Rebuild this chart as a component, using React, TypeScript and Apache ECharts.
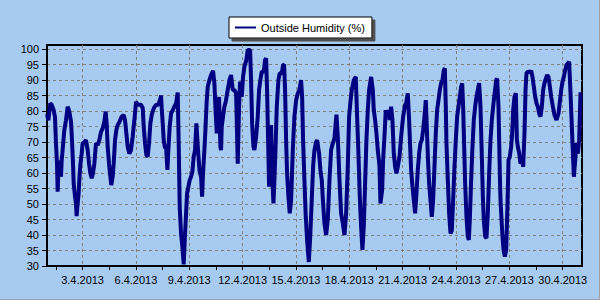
import React, { useEffect, useRef } from 'react';
import * as echarts from 'echarts';

// hours since 1.4.2013 00:00
const hours = [
  0, 1.8, 4.5, 6.3, 9, 10.8, 12.1, 13.5, 14.4, 15.7, 17.5, 18.9, 19.8, 21.1, 23.4, 25.6, 27.9, 30.1, 32.4, 33.7,
  35.1, 36, 37.8, 39.1, 40, 41.4, 42.7, 43.6, 45, 46.8, 48.1, 50.4, 52.6, 54.9, 56.7, 58.5, 60.3, 62.1, 63.9, 66.1,
  68.4, 70.6, 72.9, 75.1, 77.4, 79.2, 80.5, 81.9, 83.7, 85.5, 86.8, 88.6, 90, 91.8, 93.6, 95.4, 98.1, 100.8, 103.5, 105.3,
  107.1, 108.9, 111.1, 113.4, 115.6, 117.9, 120.2, 122.4, 126.9, 129.2, 130.5, 132.3, 134.1, 135.9, 137.7, 139.5, 141.3, 144, 147.2, 150.3,
  153, 153.9, 154.8, 156.2, 157.5, 159.3, 160.7, 162.5, 163.8, 165.6, 167.4, 169.7, 171.9, 174.2, 176.4, 177.8, 179.1, 180.9, 182.7, 184.5,
  185.9, 187.7, 189, 190.8, 192.6, 194.4, 196.2, 198, 199.8, 201.6, 203.4, 205.7, 207.9, 209.3, 210.6, 212.4, 213.8, 215.6, 216.9, 219.2,
  221.4, 224.1, 225.9, 227.7, 229.1, 230.4, 232.2, 234, 234.9, 235.8, 237.6, 239.4, 241.2, 243.9, 246.2, 248.4, 250.7, 252.9, 255.2, 256.5,
  257.4, 259.2, 260.6, 262.8, 264.6, 266.4, 269.1, 270.9, 274.1, 275.4, 276.8, 278.6, 279.9, 282.2, 284.4, 286.2, 288, 289.8, 292.5, 294.3,
  295.7, 297, 298.4, 299.7, 301.1, 302.4, 303.8, 305.6, 306.9, 308.3, 310.1, 312.3, 314.1, 316.8, 318.6, 320, 321.3, 322.7, 324, 325.8,
  327.6, 329.4, 331.7, 333.9, 336.2, 338.4, 340.7, 342.9, 344.3, 345.6, 347.4, 349.2, 351, 353.3, 355, 357.3, 359.1, 360.9, 363.2, 364.5,
  367.2, 369, 370.8, 372.6, 374.4, 376.7, 378.9, 381.2, 383.4, 385.7, 387.9, 390.6, 392.4, 394.7, 396.9, 399.2, 401.4, 403.7, 405.9, 407.7,
  409.5, 411.3, 414, 416.7, 418.5, 420.3, 422.1, 423.9, 425.7, 427.5, 429.3, 431.1, 432.9, 434.7, 437.4, 439.7, 441, 442.8, 444.6, 446.4,
  448.7, 450, 452.3, 453.6, 455.4, 457.2, 459, 460.8, 462.6, 464.4, 466.2, 468, 469.8, 471.6, 473.4, 475.7, 477.9, 480.6, 483.3, 484.7,
  486.9, 488.7, 490.1, 491.4, 493.2, 495, 496.8, 498.6, 500.4, 502.2, 504, 505.8, 507.6, 509.4, 511.2, 513, 514.4, 515.7, 517.5, 519.3,
  521.1, 522.9, 524.7, 526.5, 528.3, 530.1, 531.9, 533.7, 535.5, 536.9, 538.2, 539.1, 540.9, 542.7, 544.5, 546.3, 548.1, 549.9, 551.7, 553.5,
  555.3, 557.1, 558.9, 560.3, 561.6, 563, 564.3, 566.1, 567.9, 569.3, 570.6, 572.4, 574.2, 576, 577.8, 579.6, 581.4, 583.2, 585, 586.8,
  588.2, 589.5, 591.3, 593.1, 594.9, 596.7, 598.5, 600.3, 603, 606.2, 607.5, 609.3, 610.2, 611.1, 612, 613.4, 614.7, 616.1, 617.9, 619.7,
  621, 621.9, 622.8, 624.6, 626.4, 627.8, 629.1, 630.9, 632.7, 634.1, 635.4, 637.2, 639, 640.8, 642.6, 644.4, 645.8, 647.1, 648.9, 651.6,
  653.4, 655.2, 657, 658.8, 660.6, 662.4, 664.2, 666, 667.8, 669.6, 671.4, 673.2, 675, 676.8, 678.6, 680.4, 682.7, 684.9, 687.6, 690.3,
  692.1, 693.9, 695.7, 697.5, 699.3, 701.1, 702.9, 704.7, 706.5, 708.3, 709.7, 711, 712.8, 714.6, 716.4, 718.2, 720
];

const humidity = [
  79, 77, 82.5, 82, 80.3, 78, 69.6, 63, 54, 64, 62, 58.8, 64, 67.4, 73.9, 77, 81.4, 79.8, 76.6, 70.7,
  63, 56.7, 52.4, 50.2, 46.1, 50.2, 53.4, 57.7, 62.6, 66.3, 69.6, 70, 70.6, 67.4, 63.1, 59.9, 58.3, 59.9, 63, 69.6,
  69, 70.6, 73.3, 74.4, 76.6, 79.8, 76, 68.4, 63, 58.8, 56.1, 58.8, 63, 70.6, 73.9, 75.5, 76.6, 78.2, 78.7, 77,
  72.8, 68.4, 66.3, 67.4, 71.7, 77, 83, 82, 82, 81, 75, 69.6, 65.8, 65.3, 69.6, 76, 78.7, 80.9, 82, 82,
  84, 85, 81, 76, 70.6, 68, 68.5, 61, 67.5, 75, 79.2, 80.3, 81.4, 82.5, 86, 68.5, 49, 40.5, 36.2, 30.5,
  38.4, 47, 53.4, 55.6, 57.7, 58.8, 60.4, 65.3, 67.4, 76, 69, 61, 58.8, 52.4, 60, 67.4, 73.9, 83.5, 87.8, 90,
  91.6, 93, 89, 79.2, 72.8, 81.4, 84.5, 68.5, 67.4, 75, 78.2, 81.4, 83, 86.8, 90, 91.6, 86.8, 86.8, 85.7, 72.8,
  63, 81.4, 89.5, 84.6, 91, 94.3, 96.5, 99.7, 99.7, 90, 76, 68.5, 67.4, 71.7, 78.2, 86.8, 90, 92.7, 92.7, 96.5,
  97, 86.8, 70.6, 55.6, 67.4, 75.5, 59.9, 50.2, 57.7, 67.4, 81.4, 90, 92.2, 92.2, 94.8, 95, 86.8, 70.6, 59.9, 52.4,
  47, 51, 67.4, 78.2, 83.5, 85.7, 86.8, 90, 84.6, 70.6, 57.7, 45.9, 38.4, 31.3, 38.4, 51.3, 62, 67.4, 70, 70.6,
  66.3, 61, 57.7, 50.2, 43.8, 40, 45, 57.7, 67.4, 69.6, 71.2, 78.8, 72, 57.7, 47, 43.8, 40, 47, 62, 78.2,
  83, 86.8, 90, 91, 78.2, 66.3, 52.4, 42.7, 35.2, 42.7, 56.7, 70.6, 80.3, 86.8, 91, 86.8, 80.3, 77.1, 72.8, 67.4,
  62.2, 50.2, 54.5, 64.2, 71.7, 80.3, 78.2, 80.3, 77.1, 81.4, 77.1, 66.3, 62, 59.9, 62, 65.3, 71.7, 78.2, 82, 82.5,
  85.7, 77, 68.5, 61, 55.6, 51.3, 47, 53.4, 61, 66.3, 69.6, 70.6, 73.9, 78.2, 83.5, 72, 63, 56.7, 51.3, 45.9,
  51.3, 62, 72.8, 80.3, 83.5, 86.8, 89, 90, 93.2, 93.8, 81.4, 69.6, 57.7, 47, 40.5, 41.5, 51.3, 62, 70.6, 78.2,
  81.4, 84.6, 87.8, 88.9, 81.4, 68.5, 56.7, 45.9, 39.5, 38.4, 44.9, 57.7, 68.5, 77.1, 81.4, 84.6, 86.8, 89, 81.4, 65.5,
  52.4, 44.9, 39.5, 39, 47, 59.9, 70.6, 77.1, 83.5, 90, 90.5, 81.4, 70.6, 59.9, 51.3, 44.9, 39.5, 35.2, 33, 35.2,
  46, 54.5, 64.2, 65.3, 68.5, 72.8, 80.3, 84.6, 85.7, 71, 68.5, 66.5, 63, 65, 62, 73, 86.8, 92.2, 92.7, 92.5,
  93, 91, 87.8, 84.6, 82.5, 81.4, 79.2, 78.2, 81.4, 86.8, 89, 90.5, 91.6, 91, 88, 84.6, 81.4, 78.7, 77.1, 79.2,
  83, 86.8, 89.5, 91, 93.2, 94.8, 95.3, 95.9, 85.7, 75, 66.3, 58.8, 64, 69.6, 66.3, 70.6, 86
];

const yTickValues = [30, 35, 40, 45, 50, 55, 60, 65, 70, 75, 80, 85, 90, 95, 100];
const xLabelHours = [48, 120, 192, 264, 336, 408, 480, 552, 624, 696];
const xTickHours = [12, 48, 84, 120, 156, 192, 228, 264, 300, 336, 372, 408, 444, 480, 516, 552, 588, 624, 660, 696];
const seriesName = 'Outside Humidity (%)';

export default function App() {
  const ref = useRef<HTMLDivElement>(null);
  useEffect(() => {
    const chart = echarts.init(ref.current!, null, { renderer: 'svg' });
    const font = "'Liberation Sans', Arial, sans-serif";
    const dash = { color: '#808080', width: 1, type: [3, 3] as any };
    chart.setOption({
      animation: false,
      backgroundColor: '#A6CAF0',
      textStyle: { fontFamily: font },
      legend: {
        left: 229,
        top: 17,
        padding: [5, 7, 5, 6],
        itemWidth: 21,
        itemHeight: 2,
        icon: 'rect',
        backgroundColor: '#ffffff',
        borderColor: '#000000',
        borderWidth: 1,
        shadowColor: '#505050',
        shadowOffsetX: 3,
        shadowOffsetY: 3,
        shadowBlur: 0,
        itemStyle: { color: '#000080', borderWidth: 0 },
        textStyle: { fontSize: 11, color: '#000', fontFamily: font, lineHeight: 11 },
        data: [seriesName],
      },
      grid: {
        left: 47,
        right: 18,
        top: 45,
        bottom: 34,
        show: true,
        borderColor: '#000',
        borderWidth: 2,
        backgroundColor: 'transparent',
      },
      xAxis: [
        {
          type: 'value',
          min: 0,
          max: 722,
          axisLine: { show: true, lineStyle: { color: '#000', width: 2 } },
          axisTick: { show: true, customValues: xTickHours, length: 4, lineStyle: { color: '#000' } },
          axisLabel: {
            customValues: xLabelHours,
            fontSize: 11,
            color: '#000',
            margin: 8,
            fontFamily: font,
            formatter: (v: number) => `${Math.round(1 + v / 24)}.4.2013`,
          },
          splitLine: { show: false },
        },
        {
          type: 'value',
          min: 0,
          max: 722,
          position: 'bottom',
          axisLine: { show: false },
          axisTick: { show: false, customValues: xLabelHours },
          axisLabel: { show: false, customValues: xLabelHours },
          splitLine: { show: true, lineStyle: dash },
        },
      ],
      yAxis: {
        type: 'value',
        min: 30,
        max: 101.3,
        axisLine: { show: true, lineStyle: { color: '#000', width: 2 } },
        axisTick: { show: true, customValues: yTickValues, length: 5, lineStyle: { color: '#000' } },
        axisLabel: { customValues: yTickValues, fontSize: 11, color: '#000', margin: 8, fontFamily: font },
        splitLine: { show: true, lineStyle: dash },
      },
      graphic: [
        { type: 'line', shape: { x1: 599.5, y1: 0, x2: 599.5, y2: 300 }, style: { stroke: '#a0a0a0', lineWidth: 1 } },
        { type: 'line', shape: { x1: 0, y1: 299.5, x2: 600, y2: 299.5 }, style: { stroke: '#a0a0a0', lineWidth: 1 } },
      ],
      series: [
        {
          name: seriesName,
          type: 'line',
          xAxisIndex: 0,
          symbol: 'none',
          data: hours.map((h, i) => [h, humidity[i]]),
          lineStyle: { color: '#000080', width: 4 },
          itemStyle: { color: '#000080' },
        },
      ],
    });
    return () => chart.dispose();
  }, []);
  return <div ref={ref} style={{ position: 'fixed', left: 0, top: 0, width: 600, height: 300 }} />;
}
